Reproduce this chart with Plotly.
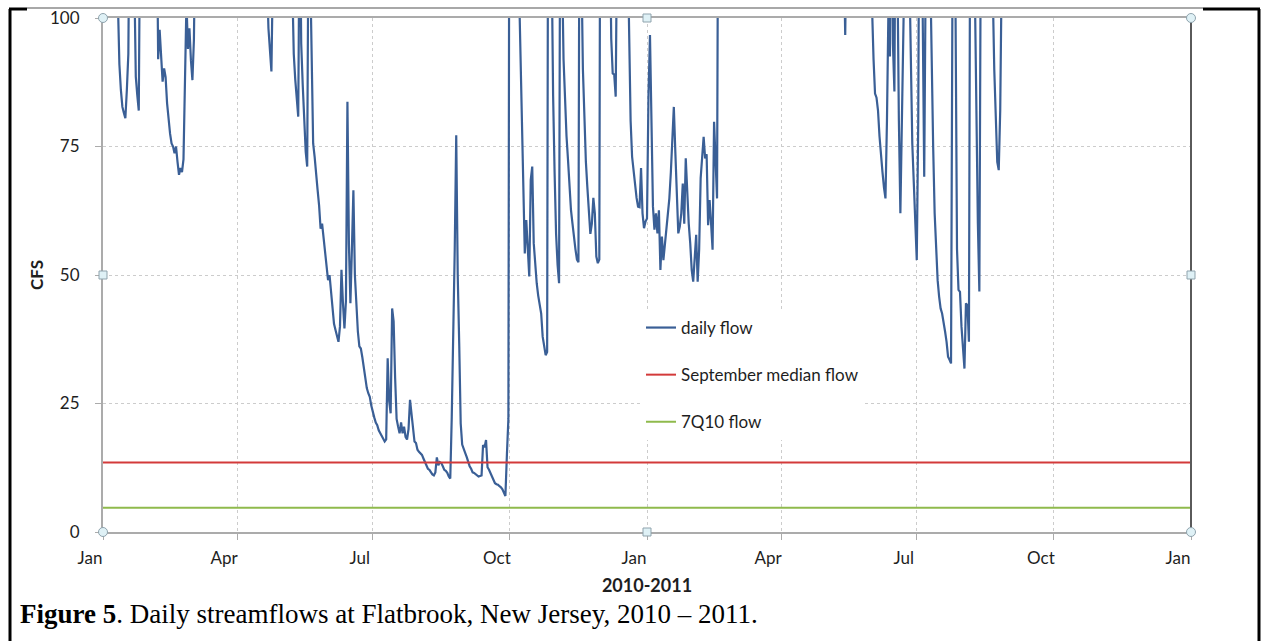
import pandas as pd
import plotly.graph_objects as go

# ---------------- data ----------------
record_start = "2010-01-01"
period = ["2010-01-01", "2012-01-01"]

# day of record (days since 2010-01-01) and daily flow in cfs (values > 100 run off the chart)
flow_day = [
    0, 5, 9, 10, 11, 12, 13, 14, 15, 16, 17, 18, 20, 21, 22, 23, 24, 25, 30, 36,
    37, 38, 39, 40, 41, 42, 43, 44, 45, 46, 47, 48, 49, 50, 51, 52, 53, 54, 55, 56,
    57, 58, 59, 60, 61, 62, 70, 90, 100, 110, 111, 112, 113, 114, 120, 126, 127, 128, 129, 130,
    131, 132, 133, 134, 135, 136, 137, 138, 139, 140,
    141, 142, 143, 144, 145, 146, 147, 148, 149, 150, 151, 152, 153, 154, 155, 156, 157, 158, 159, 160,
    161, 162, 163, 164, 165, 166, 167, 168, 169, 170, 171, 172, 173, 174, 175, 176, 177, 178, 179, 180,
    181, 182, 183, 184, 185, 186, 187, 188, 189, 190, 191, 192, 193, 194, 195, 196, 197, 198, 199, 200,
    201, 202, 203, 204, 205, 206, 207, 208, 209, 210, 211, 212, 213, 214, 215, 216, 217, 218, 219, 220,
    221, 222, 223, 224, 225, 226, 227, 228, 229, 230, 231, 232, 233, 234, 235, 236, 237, 238, 239, 240,
    241, 242, 243, 244, 245, 246, 247, 248, 249, 250, 251, 252, 253, 254, 255, 256, 257, 258, 259, 260,
    261, 262, 263, 264, 265, 266, 267, 268, 269, 270, 271, 272,
    273, 276, 279, 280, 281, 282, 283, 284, 285, 286, 287, 288, 289, 290, 291, 292, 293, 294, 295, 296,
    297, 298, 299, 300, 301, 302, 303, 304, 305, 306, 307, 308, 309, 310, 311, 312, 313, 314, 315, 316,
    317, 318, 319, 320, 321, 322, 323, 324, 325, 326, 327, 328, 329, 330, 331, 332, 333, 334, 335, 340,
    341, 342, 343, 344, 345, 350, 352,
    353, 354, 355, 356, 357, 358, 359, 360, 361, 362, 363, 364, 365, 366, 367, 368, 369, 370, 371, 372,
    373, 374, 375, 376, 377, 378, 379, 380, 381, 382, 383, 384, 385, 386, 387, 388, 389, 390, 391, 392,
    393, 394, 395, 396, 397, 398, 399, 400, 401, 402, 403, 404, 405, 406, 407, 408, 409, 410, 411, 412,
    413,
    420, 450, 480, 496, 497, 498, 499, 505, 515, 516, 517, 518, 519, 520, 521, 522, 523, 524, 525, 526,
    527, 528, 529, 530, 531, 532, 533, 534, 535, 536, 537, 538, 540, 541, 542, 543, 544, 545, 546, 547,
    548, 549, 550, 551, 552, 553, 555, 556, 557, 558, 559, 560, 561, 562, 563, 564, 565, 566, 567, 568,
    569, 570, 571, 572, 573, 574, 575, 576, 577, 578, 579, 580, 581, 582, 583, 585, 586, 587, 588, 589,
    590, 597, 598, 599, 600, 601, 602, 603, 610, 640,
]
flow_cfs = [
    140, 150, 115, 99, 91, 86, 82.7, 81.5, 80.5, 86, 93, 130, 125, 108, 88.6, 85, 82, 125, 150, 125,
    92, 97.7, 91, 87.6, 90.2, 88.5, 83.4, 79.5, 77.5, 75.6, 75, 73.7, 75, 72, 69.5, 70.8, 70, 72.5, 88.6, 103,
    94, 98, 91.8, 87.9, 95.8, 120, 160, 180, 140, 108, 98, 94, 89.6, 110, 150, 120, 104, 93, 88, 84,
    80.8, 125, 95, 87, 80, 74, 71.1, 125, 110, 88,
    75.6, 73, 70.4, 66.5, 63.5, 59, 60, 57.5, 55, 52.3, 49, 50, 46.5, 43, 40.5, 39.3, 38.3, 37, 40, 51,
    44.5, 39.6, 45, 83.7, 56, 44.5, 55, 66.5, 50, 43.2, 39, 36.1, 35.7, 34, 32, 29.5, 28, 27, 26.3, 24.6,
    23.2, 22.3, 21.3, 20.8, 19.8, 19.2, 18.5, 17.9, 17.6, 18, 33.8, 25.5, 23.1, 43.5, 41, 30, 22, 20.5, 19.2, 21.3,
    19.2, 20.5, 18.5, 18, 20, 25.7, 23, 21.1, 17.6, 17.3, 16, 15.6, 15.2, 15, 14.3, 13.5, 12.7, 12.3, 12.1, 11.6,
    11.2, 11, 11.6, 14.5, 13, 13.6, 13.4, 12.8, 12.1, 11.9, 11.5, 10.8, 10.4, 22.4, 36.7, 55, 77.2, 50, 36.7, 21.1,
    17, 16, 15.4, 14.6, 13.4, 12.8, 12.3, 11.6, 11.5, 11.3, 11, 10.8, 10.9, 11, 16.9, 16.5, 17.9, 12.6, 12.1, 11.5,
    10.8, 10.2, 9.5, 9.3, 9.2, 8.9, 8.7, 8.3, 7.5, 7.0, 15, 22,
    200, 250, 108, 95, 80, 66, 54.2, 60.7, 55, 49.7, 68.5, 71.1, 56.2, 51, 48.4, 46, 44.5, 42.5, 38, 36,
    34.4, 35, 180, 140, 105, 85, 70, 58, 52, 48.4, 150, 110, 92, 82, 77, 72.4, 67, 62.6, 60, 57,
    55, 53, 52.5, 160, 110, 90, 78, 72, 67, 62, 58, 60, 65, 62, 53.6, 52.3, 53, 180, 200, 120,
    96, 89.2, 89, 84.7, 120, 150, 115,
    90, 80, 73, 70, 67.8, 65, 63.3, 63.2, 70.8, 62, 59.1, 60.4, 61, 85, 96.7, 78, 63.3, 58.8, 62, 58.1,
    62.6, 51, 57.5, 52.9, 56.2, 59, 62, 64.9, 70, 76, 82.7, 74, 65, 58.1, 59.4, 62, 67.8, 60, 72.7, 65.2,
    60, 56.2, 51, 48.7, 53, 57.8, 48.7, 55, 68.8, 74, 76.9, 72.7, 73.5, 59.7, 64.6, 60, 54.9, 79.8, 70, 64.9,
    150,
    200, 250, 180, 130, 110, 96.7, 120, 200, 130, 102, 92, 85.3, 84.5, 82, 77, 73, 70, 67, 64.9, 80,
    102, 92.5, 140, 95, 85.7, 140, 105, 80, 62, 82, 101, 150, 150, 110, 90, 75.6, 68, 60, 52.9, 80,
    150, 120, 100, 69.1, 110, 150, 110, 88, 75, 62, 53.6, 49, 45.8, 43.5, 42.5, 41, 39, 37, 34.1, 33.5,
    32.8, 110, 140, 102, 55, 47.1, 46.7, 40, 35, 31.8, 44.5, 44.1, 37, 140, 150, 105, 80, 60, 46.8, 120,
    150, 105, 90, 80, 72, 70.4, 82.1, 110, 180, 160,
]

sept_median_cfs = 13.5
q7_10_cfs = 4.7

y_ticks = [0, 25, 50, 75, 100]
series_names = ["daily flow", "September median flow", "7Q10 flow"]
x_title = "2010-2011"
y_title = "CFS"
caption = "<b>Figure 5</b>. Daily streamflows at Flatbrook, New Jersey, 2010 \u2013 2011."

# ---------------- figure ----------------
dates = pd.Timestamp(record_start) + pd.to_timedelta(flow_day, unit="D")

W, H = 1261, 641
L, R, T, B = 103, 70, 18, 109
PW, PH = W - L - R, H - T - B


def px_x(p):
    return (p - L) / PW


def px_y(p):
    return (H - B - p) / PH


fig = go.Figure()
fig.add_trace(go.Scatter(x=dates, y=flow_cfs, mode="lines", name=series_names[0],
                         legendgroup="a", line=dict(color="#3a5f96", width=2.2)))
fig.add_trace(go.Scatter(x=period, y=[sept_median_cfs] * 2, mode="lines", name=series_names[1],
                         legendgroup="b", line=dict(color="#d33a3a", width=2)))
fig.add_trace(go.Scatter(x=period, y=[q7_10_cfs] * 2, mode="lines", name=series_names[2],
                         legendgroup="c", line=dict(color="#8fba4c", width=2)))

tick_font = dict(family="Lato", size=17, color="#1e1e1e")
title_font = dict(family="Lato", size=18, color="#1e1e1e")
axis_grey = "#ababab"

fig.update_xaxes(
    type="date", range=period, dtick="M3", tick0="2010-01-01", tickformat="%b",
    ticks="outside", ticklen=6, tickwidth=1, tickcolor=axis_grey,
    showline=True, linecolor=axis_grey, linewidth=2, mirror=True, automargin=False,
    showgrid=True, gridcolor="#cccccc", gridwidth=1, griddash="3px,3px",
    zeroline=False, tickfont=tick_font, ticklabelshift=-13, ticklabelstandoff=4,
    title=dict(text="<b>" + x_title + "</b>", font=title_font, standoff=12),
)
fig.update_yaxes(
    range=[0, 100], tickvals=y_ticks, ticks="outside", ticklen=6, tickwidth=1, tickcolor=axis_grey,
    showline=True, linecolor=axis_grey, linewidth=2, automargin=False,
    showgrid=True, gridcolor="#cccccc", gridwidth=1, griddash="3px,3px",
    zeroline=False, tickfont=tick_font, ticklabelstandoff=12,
    title=dict(text="<b>" + y_title + "</b>", font=dict(family="Lato", size=17, color="#1e1e1e"), standoff=2),
)

shapes = []
# right edge of plot area (darker)
shapes.append(dict(type="line", xref="paper", yref="paper", x0=1, x1=1, y0=0, y1=1,
                   line=dict(color="#5a5a5a", width=2)))
# chart-object outer border (grey) and surrounding table frame (black)
shapes.append(dict(type="line", xref="paper", yref="paper", x0=px_x(27), x1=px_x(1203),
                   y0=px_y(8), y1=px_y(8), line=dict(color="#a8a8a8", width=2)))
frame = dict(color="black", width=3)
shapes.append(dict(type="line", xref="paper", yref="paper", x0=px_x(10), x1=px_x(10),
                   y0=px_y(9), y1=px_y(H + 5), line=frame))
shapes.append(dict(type="line", xref="paper", yref="paper", x0=px_x(9), x1=px_x(27),
                   y0=px_y(9), y1=px_y(9), line=frame))
shapes.append(dict(type="line", xref="paper", yref="paper", x0=px_x(1203), x1=px_x(1260),
                   y0=px_y(9), y1=px_y(9), line=frame))
shapes.append(dict(type="line", xref="paper", yref="paper", x0=px_x(1259), x1=px_x(1259),
                   y0=px_y(9), y1=px_y(H + 5), line=frame))
# selection handles
for hx, hy in [(0, 0), (1, 0), (0, 1), (1, 1)]:
    shapes.append(dict(type="circle", xref="paper", yref="paper", xsizemode="pixel", ysizemode="pixel",
                       xanchor=hx, yanchor=hy, x0=-4.5, x1=4.5, y0=-4.5, y1=4.5,
                       fillcolor="#dff1f6", line=dict(color="#8fa3ad", width=1)))
for hx, hy in [(0.5, 0), (0.5, 1), (0, 0.5), (1, 0.5)]:
    shapes.append(dict(type="rect", xref="paper", yref="paper", xsizemode="pixel", ysizemode="pixel",
                       xanchor=hx, yanchor=hy, x0=-4, x1=4, y0=-4, y1=4,
                       fillcolor="#dff1f6", line=dict(color="#8fa3ad", width=1)))

fig.update_layout(
    width=W, height=H, margin=dict(l=L, r=R, t=T, b=B, autoexpand=False),
    paper_bgcolor="white", plot_bgcolor="white",
    font=dict(family="Lato", color="#1e1e1e"),
    showlegend=True,
    legend=dict(x=px_x(641), y=px_y(310), xanchor="left", yanchor="top",
                bgcolor="white", borderwidth=0, tracegroupgap=22, itemwidth=30,
                entrywidth=208, entrywidthmode="pixels",
                font=dict(family="Lato", size=17, color="#1e1e1e")),
    shapes=shapes,
    annotations=[dict(text=caption, xref="paper", yref="paper", x=px_x(18), y=px_y(614),
                      xanchor="left", yanchor="middle", showarrow=False,
                      font=dict(family="Liberation Serif", size=27, color="black"))],
)

fig.write_html("out.html", config={"displayModeBar": False},
               post_script="document.body.style.margin='0';")
